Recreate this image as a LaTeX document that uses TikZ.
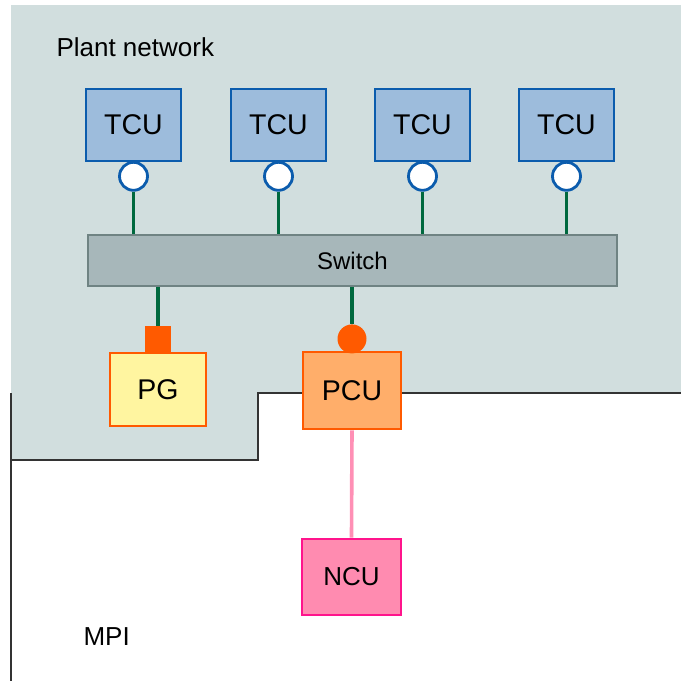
\documentclass[tikz,border=0pt]{standalone}
\usepackage{fontspec}
\setmainfont{Liberation Sans}
\usetikzlibrary{positioning,calc}
\definecolor{plantgray}{RGB}{209,222,222}
\definecolor{switchfill}{RGB}{167,183,186}
\definecolor{switchline}{RGB}{111,131,131}
\definecolor{tcufill}{RGB}{157,188,220}
\definecolor{tculine}{RGB}{11,92,173}
\definecolor{netgreen}{RGB}{0,104,62}
\definecolor{pgfill}{RGB}{255,245,160}
\definecolor{plugorange}{RGB}{255,90,0}
\definecolor{pcufill}{RGB}{255,174,106}
\definecolor{mpipink}{RGB}{255,143,181}
\definecolor{ncufill}{RGB}{255,139,176}
\definecolor{nculine}{RGB}{255,20,140}

\begin{document}
\begin{tikzpicture}[
    x=1pt, y=-1pt,
    font=\fontsize{28.5}{32}\selectfont,
    unit/.style={draw, line width=2.8pt, inner sep=0pt, align=center},
    tcu/.style={unit, fill=tcufill, draw=tculine,
                minimum width=95pt, minimum height=72pt},
    port/.style={circle, draw=tculine, fill=white, line width=2.8pt,
                 minimum size=28pt, inner sep=0pt},
    switchbox/.style={draw=switchline, fill=switchfill, line width=1.6pt,
                      minimum width=529pt, minimum height=51pt,
                      font=\fontsize{24}{28}\selectfont},
    pgbox/.style={unit, fill=pgfill, draw=plugorange,
                  minimum width=96pt, minimum height=73pt},
    pcubox/.style={unit, fill=pcufill, draw=plugorange,
                   minimum width=98pt, minimum height=77pt},
    ncubox/.style={unit, fill=ncufill, draw=nculine,
                   minimum width=99pt, minimum height=76pt,
                   font=\fontsize{26}{30}\selectfont},
    plugsq/.style={fill=plugorange, minimum size=26pt, inner sep=0pt},
    plugdot/.style={circle, fill=plugorange, minimum size=29pt, inner sep=0pt},
    link/.style={draw=netgreen, line width=3.6pt},
    mpilink/.style={draw=mpipink, line width=3.6pt},
    stepline/.style={draw=black!80, line width=1.6pt},
    area/.style={anchor=west, font=\fontsize{26}{30}\selectfont},
]
\useasboundingbox (0,0) rectangle (681,681);

%% ── areas ────────────────────────────────────────────────────
\fill[plantgray] (11,5) rectangle (681,393);
\fill[plantgray] (11,393) rectangle (258,460);
\draw[stepline] (11,460) -- (258,460) -- (258,393) -- (681,393);
\draw[stepline] (11,393) -- (11,681);

\node[area] (plant) at (53,47)  {Plant network};
\node[area] (mpi)   at (80,637) {MPI};

%% ── plant network ────────────────────────────────────────────
\node[tcu] (tcu1) at (133.5,125) {TCU};
\node[tcu] (tcu2) at (278.5,125) {TCU};
\node[tcu] (tcu3) at (422.5,125) {TCU};
\node[tcu] (tcu4) at (566.5,125) {TCU};

\node[port, below=-1.5pt of tcu1] (port1) {};
\node[port, below=-1.5pt of tcu2] (port2) {};
\node[port, below=-1.5pt of tcu3] (port3) {};
\node[port, below=-1.5pt of tcu4] (port4) {};

\node[switchbox] (sw) at (352.5,260.5) {Switch};

\draw[link] (port1.south) -- (port1.south |- sw.north);
\draw[link] (port2.south) -- (port2.south |- sw.north);
\draw[link] (port3.south) -- (port3.south |- sw.north);
\draw[link] (port4.south) -- (port4.south |- sw.north);

\node[pgbox]  (pg)  at (158,389.5) {PG};
\node[pcubox] (pcu) at (352,390.5) {PCU};
\node[plugsq,  above=-1pt of pg]  (pgplug)  {};
\node[plugdot, above=-3pt of pcu] (pcuplug) {};

\draw[link] (pgplug.north |- sw.south)  -- (pgplug.north);
\draw[link] (pcuplug.north |- sw.south) -- (pcuplug.north);

%% ── MPI ──────────────────────────────────────────────────────
\node[ncubox] (ncu) at (351.5,577) {NCU};
\draw[mpilink] (pcu.south) -- (ncu.north);

\end{tikzpicture}
\end{document}
